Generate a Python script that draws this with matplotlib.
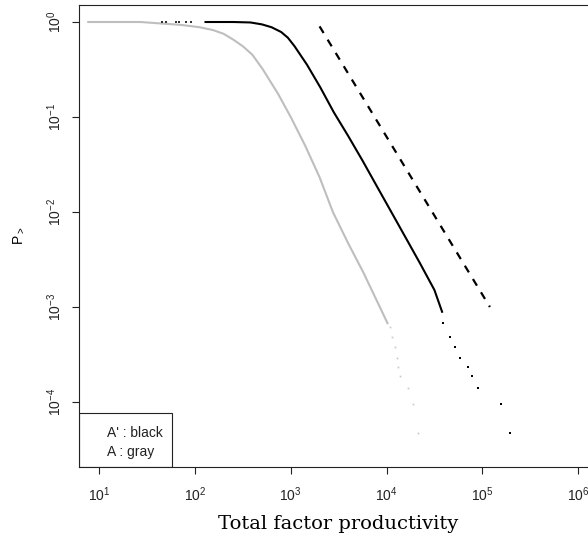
import matplotlib
matplotlib.use('Agg')

import numpy as np
import matplotlib.pyplot as plt
from matplotlib.patches import Rectangle

# === Data ===
# A' (black): main curve
black_x = [129, 251, 380, 501, 631, 794, 933, 1096, 1479, 2042, 2818, 3981,
           5623, 7943, 11220, 15849, 22387, 31623, 38019]
black_y = [1.0, 1.0, 0.989, 0.944, 0.881, 0.785, 0.684, 0.556, 0.355, 0.204,
           0.112, 0.0631, 0.0347, 0.0186, 0.0100, 0.00537, 0.00288, 0.00151,
           0.000891]
# sparse points at the low end and in the tail
black_head_x = [45.5, 50, 63, 68, 81, 91]
black_head_y = [1.0, 1.0, 1.0, 1.0, 1.0, 1.0]
black_tail_x = [39000, 46100, 52000, 58600, 71100, 78300, 90400, 157000, 195000]
black_tail_y = [6.79e-4, 4.83e-4, 3.79e-4, 2.90e-4, 2.33e-4, 1.88e-4, 1.40e-4,
                9.5e-5, 4.7e-5]

# A (gray)
gray_x = [7.7, 26.9, 70.8, 112, 155, 200, 251, 316, 398, 513, 741, 1000,
          1413, 1995, 2754, 3981, 5754, 8511, 10233]
gray_y = [1.0, 1.0, 0.933, 0.881, 0.822, 0.750, 0.653, 0.556, 0.452, 0.316,
          0.174, 0.1, 0.0501, 0.0234, 0.01, 0.00468, 0.00229, 0.001, 0.000676]
gray_tail_x = [10900, 11400, 12300, 12900, 13200, 13900, 16800, 19000, 21400]
gray_tail_y = [6.15e-4, 4.83e-4, 3.79e-4, 2.90e-4, 2.33e-4, 1.88e-4, 1.40e-4,
               9.5e-5, 4.7e-5]

# reference power-law line
dash_x = [2000, 120000]
dash_y = [0.9, 0.001]

x_ticks = [1e1, 1e2, 1e3, 1e4, 1e5, 1e6]
x_ticklabels = [r'$10^{1}$', r'$10^{2}$', r'$10^{3}$', r'$10^{4}$', r'$10^{5}$', r'$10^{6}$']
y_ticks = [1e0, 1e-1, 1e-2, 1e-3, 1e-4]
y_ticklabels = [r'$10^{0}$', r'$10^{-1}$', r'$10^{-2}$', r'$10^{-3}$', r'$10^{-4}$']

legend_lines = ["A' : black", "A : gray"]

# === Plotting ===
plt.rcParams['font.family'] = ['Liberation Sans', 'DejaVu Sans']
plt.rcParams['mathtext.fontset'] = 'custom'
plt.rcParams['mathtext.rm'] = 'Liberation Sans'
plt.rcParams['mathtext.it'] = 'Liberation Sans:italic'
plt.rcParams['mathtext.default'] = 'regular'

fig = plt.figure(figsize=(5.88, 5.42), dpi=100)
ax = fig.add_axes([79 / 588, 1 - 467 / 542, 518 / 588, 462 / 542])

ax.plot(gray_x, gray_y, color='#bebebe', lw=1.5, solid_joinstyle='round')
ax.plot(gray_tail_x, gray_tail_y, ls='none', marker='s', ms=1.2, mew=0,
        color='#c8c8c8')
ax.plot(black_x, black_y, color='black', lw=1.5, solid_joinstyle='round')
ax.plot(black_head_x, black_head_y, ls='none', marker='s', ms=1.6, mew=0,
        color='#333333')
ax.plot(black_tail_x, black_tail_y, ls='none', marker='s', ms=1.5, mew=0,
        color='black')
ax.plot(dash_x, dash_y, color='black', lw=1.6, dashes=(3.5, 3.5))

ax.set_xscale('log')
ax.set_yscale('log')
ax.set_xlim(10 ** 0.79, 10 ** 6.197)
ax.set_ylim(10 ** -4.684, 10 ** 0.179)

ax.set_xticks(x_ticks)
ax.set_xticklabels(x_ticklabels)
ax.set_yticks(y_ticks)
ax.set_yticklabels(y_ticklabels, rotation=90, va='center')
ax.minorticks_off()
ax.tick_params(axis='both', direction='out', length=5, width=0.8,
               labelsize=10, colors='#222222')
ax.tick_params(axis='x', pad=8)
ax.tick_params(axis='y', pad=6)
for sp in ax.spines.values():
    sp.set_linewidth(0.8)
    sp.set_color('#222222')

ax.set_xlabel('Total factor productivity', family='DejaVu Serif',
              fontsize=14, labelpad=8)
ax.set_ylabel(r'$P_>$', fontsize=10, labelpad=14)

# legend box in the lower left corner
ax.add_patch(Rectangle((0, 0), 93 / 518, 54 / 462, transform=ax.transAxes,
                       fill=False, lw=0.8, ec='#222222', zorder=5))
ax.text(28 / 518, 34 / 462, legend_lines[0], transform=ax.transAxes,
        fontsize=10, va='center', ha='left', color='#222222')
ax.text(28 / 518, 15 / 462, legend_lines[1], transform=ax.transAxes,
        fontsize=10, va='center', ha='left', color='#222222')

fig.savefig('out.png', dpi=100)
